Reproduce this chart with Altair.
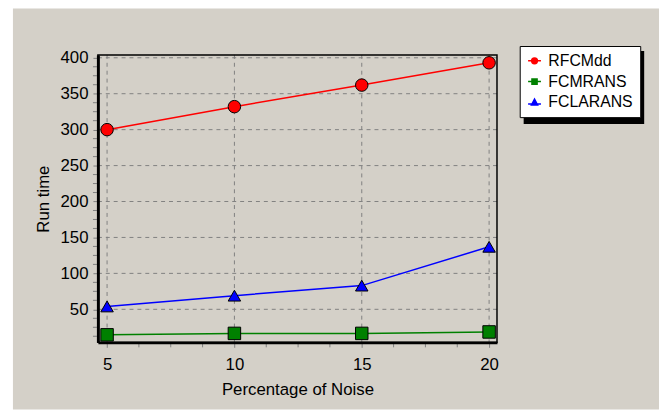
import altair as alt
import pandas as pd

# ---- data ----
noise = [5, 10, 15, 20]
series_names = ["RFCMdd", "FCMRANS", "FCLARANS"]
rfcmdd = [300, 332, 362, 393]
fcmrans = [14.5, 16.5, 16.5, 18.5]
fclarans = [54, 69, 83, 137]
series_colors = ["#ff0000", "#008000", "#0000ff"]
series_shapes = ["circle", "square", "triangle-up"]
# legend symbols: a short line through the marker
legend_shapes = [
    "M-1,0H1M0.45,0A0.45,0.45,0,1,1,-0.45,0A0.45,0.45,0,1,1,0.45,0Z",
    "M-1,0H1M-0.4,-0.4H0.4V0.4H-0.4Z",
    "M-1,0.25H1M0,-0.5L0.48,0.4L-0.48,0.4Z",
]

x_ticks = [5, 10, 15, 20]
y_ticks = [50, 100, 150, 200, 250, 300, 350, 400]
x_minor = [6.25, 7.5, 8.75, 11.25, 12.5, 13.75, 16.25, 17.5, 18.75]
y_minor = [12.5, 25, 37.5, 62.5, 75, 87.5, 112.5, 125, 137.5, 162.5, 175, 187.5,
           212.5, 225, 237.5, 262.5, 275, 287.5, 312.5, 325, 337.5, 362.5, 375, 387.5]

rows = []
for name, vals in zip(series_names, [rfcmdd, fcmrans, fclarans]):
    for xv, yv in zip(noise, vals):
        rows.append({"noise": xv, "time": yv, "series": name})
df = pd.DataFrame(rows)

W, H = 404, 291
FONT = "Liberation Sans"
BG = "#d4d0c8"

xscale = alt.Scale(domain=[4.64, 20.31], nice=False, zero=False)
yscale = alt.Scale(domain=[4, 404], nice=False, zero=False)
cscale = alt.Scale(domain=series_names, range=series_colors)
sscale = alt.Scale(domain=series_names, range=series_shapes)
lscale = alt.Scale(domain=series_names, range=legend_shapes)

x_axis = alt.Axis(values=x_ticks, title="Percentage of Noise", grid=False,
                  domainColor="black", domainWidth=3, tickColor="#808080",
                  tickSize=5, labelPadding=9, titlePadding=10, zindex=1,
                  labelFontSize=17, titleFontSize=17, labelFont=FONT, titleFont=FONT,
                  labelColor="black", titleColor="black", titleFontWeight="normal")
y_axis = alt.Axis(values=y_ticks, title="Run time", grid=False,
                  domainColor="black", domainWidth=3, tickColor="#808080",
                  tickSize=5, labelPadding=5, titlePadding=8, zindex=1,
                  labelFontSize=17, titleFontSize=17, labelFont=FONT, titleFont=FONT,
                  labelColor="black", titleColor="black", titleFontWeight="normal")

legend = alt.Legend(title=None, orient="none", legendX=427, legendY=-9,
                    fillColor="white", strokeColor="black", padding=7,
                    labelFontSize=16, labelFont=FONT, labelColor="black",
                    symbolSize=169, symbolStrokeWidth=1.5,
                    rowPadding=5, labelOffset=6)

bg = alt.Chart(pd.DataFrame({"a": [0]})).mark_rect(color=BG).encode(
    x=alt.value(-86), x2=alt.value(568), y=alt.value(-47), y2=alt.value(359))

shadow = alt.Chart(pd.DataFrame({"a": [0]})).mark_rect(color="black").encode(
    x=alt.value(431), x2=alt.value(553), y=alt.value(-4), y2=alt.value(70))

gx = alt.Chart(pd.DataFrame({"v": x_ticks})).mark_rule(
    color="#808080", strokeDash=[4, 4], strokeWidth=1).encode(
    x=alt.X("v:Q", scale=xscale, axis=x_axis))
gy = alt.Chart(pd.DataFrame({"v": y_ticks})).mark_rule(
    color="#808080", strokeDash=[4, 4], strokeWidth=1).encode(
    y=alt.Y("v:Q", scale=yscale, axis=y_axis))

mx = alt.Chart(pd.DataFrame({"v": x_minor})).mark_rule(color="#808080").encode(
    x=alt.X("v:Q", scale=xscale), y=alt.value(H + 1), y2=alt.value(H + 5))
my = alt.Chart(pd.DataFrame({"v": y_minor})).mark_rule(color="#808080").encode(
    y=alt.Y("v:Q", scale=yscale), x=alt.value(-5), x2=alt.value(-1))

frame = alt.Chart(pd.DataFrame({"a": [0]})).mark_rect(
    fillOpacity=0, stroke="black", strokeWidth=1.5).encode(
    x=alt.value(0), x2=alt.value(W), y=alt.value(0), y2=alt.value(H))

base = alt.Chart(df)
lines = base.mark_line(strokeWidth=1.5).encode(
    x=alt.X("noise:Q", scale=xscale, axis=x_axis),
    y=alt.Y("time:Q", scale=yscale, axis=y_axis),
    color=alt.Color("series:N", scale=cscale, legend=None))
points = base.mark_point(filled=True, size=160, stroke="black", strokeWidth=1, opacity=1).encode(
    x=alt.X("noise:Q", scale=xscale, axis=x_axis),
    y=alt.Y("time:Q", scale=yscale, axis=y_axis),
    color=alt.Color("series:N", scale=cscale, legend=None),
    shape=alt.Shape("series:N", scale=sscale, legend=None))

main = alt.layer(bg, shadow, gx, gy, frame, lines, points, mx, my)

legend_layer = base.transform_filter("false").mark_point(filled=True, opacity=1).encode(
    x=alt.X("noise:Q", scale=xscale, axis=x_axis),
    y=alt.Y("time:Q", scale=yscale, axis=y_axis),
    color=alt.Color("series:N", scale=cscale, legend=legend),
    stroke=alt.Stroke("series:N", scale=cscale, legend=legend),
    shape=alt.Shape("series:N", scale=lscale, legend=legend))

chart = alt.layer(main, legend_layer).resolve_scale(
    color="independent", shape="independent", stroke="independent"
).properties(
    width=W, height=H,
    autosize=alt.AutoSizeParams(type="none"),
    padding={"left": 91, "top": 45, "right": 659 - 91 - W, "bottom": 404 - 45 - H},
).configure(background="white").configure_view(stroke=None)

chart.save("out.html", embed_options={"renderer": "svg", "actions": False})
